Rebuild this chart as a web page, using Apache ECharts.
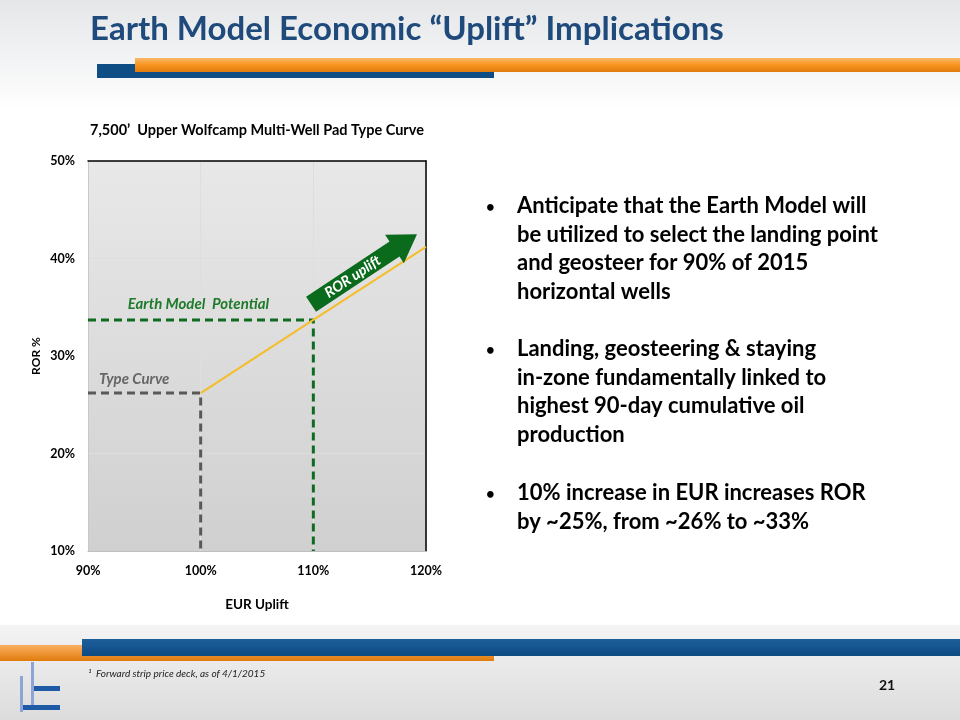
<!DOCTYPE html>
<html>
<head>
<meta charset="utf-8">
<script src="https://cdn.jsdelivr.net/npm/echarts@6/dist/echarts.min.js"></script>
<style>
  html, body { margin: 0; padding: 0; background: #fff; }
  #main { width: 960px; height: 720px; }
</style>
</head>
<body>
<div id="main"></div>
<script>
// EUR uplift (%) vs ROR (%)
const eurUplift = [100, 110, 120];
const rorValues = [26.2, 33.7, 41.2];
const xTicks = [90, 100, 110, 120];
const yTicks = [10, 20, 30, 40, 50];

// reference guides
const typeCurve = { eur: 100, ror: 26.2 };
const earthModel = { eur: 110, ror: 33.7 };

// arrow annotation (start / tip in data units)
const arrowStart = [109.8, 35.3];
const arrowEnd = [119.2, 42.5];

const bullets = [
    ['Anticipate that the Earth Model will', 'be utilized to select the landing point', 'and geosteer for 90% of 2015', 'horizontal wells'],
    ['Landing, geosteering & staying', 'in-zone fundamentally linked to', 'highest 90-day cumulative oil', 'production'],
    ['10% increase in EUR increases ROR', 'by ~25%, from ~26% to ~33%']
];

const FONT = 'Lato, "Open Sans", sans-serif';
const chart = echarts.init(document.getElementById('main'));

function bulletGraphics() {
    const out = [];
    const tops = [209, 352, 496];
    bullets.forEach((lines, i) => {
        out.push({
            type: 'text', left: 486, top: tops[i] - 9,
            style: { text: '•', font: 'bold 15px ' + FONT, fill: '#000' }
        });
        lines.forEach((line, j) => {
            out.push({
                type: 'text', left: 517, top: tops[i] - 14 + j * 28.7,
                style: { text: line, font: 'bold 22px ' + FONT, fill: '#000' }
            });
        });
    });
    return out;
}

const option = {
    backgroundColor: '#ffffff',
    animation: false,
    textStyle: { fontFamily: FONT },
    title: {
        text: '7,500\u2019  Upper Wolfcamp Multi-Well Pad Type Curve',
        left: 252, top: 118, textAlign: 'center',
        textStyle: { fontSize: 14.5, fontWeight: 'bold', color: '#000', fontFamily: FONT }
    },
    graphic: [
        // header / footer shading
        {
            type: 'rect', shape: { x: 0, y: 0, width: 960, height: 110 }, z: -10,
            style: { fill: new echarts.graphic.LinearGradient(0, 0, 0, 1, [
                { offset: 0, color: '#e4e6e8' }, { offset: 1, color: '#ffffff' }]) }
        },
        {
            type: 'rect', shape: { x: 0, y: 625, width: 960, height: 95 }, z: -10,
            style: { fill: new echarts.graphic.LinearGradient(0, 0, 0, 1, [
                { offset: 0, color: '#f4f4f4' }, { offset: 1, color: '#dcdcdc' }]) }
        },
        {
            type: 'text', left: 90, top: 13,
            style: { text: 'Earth Model Economic \u201cUplift\u201d Implications', font: 'bold 33px ' + FONT, fill: '#1f4a7c' }
        },
        // header bars
        { type: 'rect', shape: { x: 97, y: 64, width: 397, height: 14 }, style: { fill: '#0f4d85' } },
        {
            type: 'rect', shape: { x: 135, y: 58, width: 825, height: 14 },
            style: { fill: new echarts.graphic.LinearGradient(0, 0, 0, 1, [
                { offset: 0, color: '#fbb868' }, { offset: 0.5, color: '#f7941d' }, { offset: 1, color: '#e07b0c' }]) }
        },
        // footer bars
        {
            type: 'rect', shape: { x: 0, y: 645, width: 494, height: 16 },
            style: { fill: new echarts.graphic.LinearGradient(0, 0, 0, 1, [
                { offset: 0, color: '#fbb060' }, { offset: 1, color: '#e07b0c' }]) }
        },
        {
            type: 'rect', shape: { x: 82, y: 639, width: 878, height: 17 },
            style: { fill: new echarts.graphic.LinearGradient(0, 0, 0, 1, [
                { offset: 0, color: '#1d5f9c' }, { offset: 1, color: '#0c4a82' }]) }
        },
        {
            type: 'text', left: 88, top: 669,
            style: { text: '\u00b9  Forward strip price deck, as of 4/1/2015', font: 'italic 10px ' + FONT, fill: '#222' }
        },
        {
            type: 'text', left: 879, top: 678,
            style: { text: '21', font: 'bold 14px ' + FONT, fill: '#111' }
        },
        // logo
        { type: 'rect', shape: { x: 20, y: 676, width: 3, height: 36 }, style: { fill: '#8ea3d6' } },
        { type: 'rect', shape: { x: 31, y: 662, width: 3, height: 46 }, style: { fill: '#8ea3d6' } },
        { type: 'rect', shape: { x: 34, y: 686, width: 26, height: 5 }, style: { fill: '#1f5aa6' } },
        { type: 'rect', shape: { x: 23, y: 705, width: 37, height: 5 }, style: { fill: '#1f5aa6' } },
        ...bulletGraphics()
    ],
    grid: {
        left: 88, right: 534, top: 161, bottom: 169,
        show: true, borderWidth: 0,
        backgroundColor: new echarts.graphic.LinearGradient(0, 0, 0, 1, [
            { offset: 0, color: '#e8e8e8' }, { offset: 1, color: '#d0d0d0' }])
    },
    xAxis: [{
        type: 'value', min: xTicks[0], max: xTicks[xTicks.length - 1], interval: 10,
        name: 'EUR Uplift', nameLocation: 'middle', nameGap: 47,
        nameTextStyle: { fontSize: 13.5, fontWeight: 'bold', color: '#000' },
        axisLine: { show: true, lineStyle: { color: '#bfbfbf', width: 1 } },
        axisTick: { show: false },
        axisLabel: { formatter: '{value}%', fontSize: 12.5, fontWeight: 'bold', color: '#000', margin: 13 },
        splitLine: { show: true, lineStyle: { color: '#dedede' } }
    }, {
        type: 'value', position: 'top', min: xTicks[0], max: xTicks[xTicks.length - 1],
        axisLine: { show: true, onZero: false, lineStyle: { color: '#000', width: 1.5 } },
        axisTick: { show: false }, axisLabel: { show: false }, splitLine: { show: false }
    }],
    yAxis: [{
        type: 'value', min: yTicks[0], max: yTicks[yTicks.length - 1], interval: 10,
        name: 'ROR %', nameLocation: 'middle', nameGap: 46, nameRotate: 90,
        nameTextStyle: { fontSize: 12, fontWeight: 'bold', color: '#000' },
        axisLine: { show: true, lineStyle: { color: '#c8c8c8', width: 1 } },
        axisTick: { show: false },
        axisLabel: { formatter: '{value}%', fontSize: 12.5, fontWeight: 'bold', color: '#000', margin: 13 },
        splitLine: { show: true, lineStyle: { color: '#dedede' } }
    }, {
        type: 'value', position: 'right', min: yTicks[0], max: yTicks[yTicks.length - 1],
        axisLine: { show: true, onZero: false, lineStyle: { color: '#000', width: 1.5 } },
        axisTick: { show: false }, axisLabel: { show: false }, splitLine: { show: false }
    }],
    series: [
        {
            name: 'Type Curve', type: 'line', silent: true, symbol: 'none', z: 3,
            data: [[xTicks[0], typeCurve.ror], [typeCurve.eur, typeCurve.ror], [typeCurve.eur, yTicks[0]]],
            lineStyle: { color: '#595959', width: 3, type: [8, 5] },
            markPoint: {
                symbol: 'circle', symbolSize: 0,
                label: { show: true, position: 'inside', formatter: 'Type Curve',
                    fontSize: 15, fontStyle: 'italic', fontWeight: 'bold', color: '#666' },
                data: [{ coord: [94.1, 27.6] }]
            }
        },
        {
            name: 'Earth Model Potential', type: 'line', silent: true, symbol: 'none', z: 3,
            data: [[xTicks[0], earthModel.ror], [earthModel.eur, earthModel.ror], [earthModel.eur, yTicks[0]]],
            lineStyle: { color: '#0e6b1f', width: 3, type: [8, 5] },
            markPoint: {
                symbol: 'circle', symbolSize: 0,
                label: { show: true, position: 'inside', formatter: 'Earth Model  Potential',
                    fontSize: 15, fontStyle: 'italic', fontWeight: 'bold', color: '#1e7a2a' },
                data: [{ coord: [99.8, 35.3] }]
            }
        },
        {
            name: 'ROR', type: 'line', silent: true, symbol: 'none', z: 4,
            data: eurUplift.map((x, i) => [x, rorValues[i]]),
            lineStyle: { color: '#f5bd2a', width: 2 }
        },
        {
            name: 'ROR uplift', type: 'custom', silent: true, z: 5,
            data: [[arrowStart[0], arrowStart[1], arrowEnd[0], arrowEnd[1]]],
            renderItem: function (params, api) {
                const p0 = api.coord([api.value(0), api.value(1)]);
                const p1 = api.coord([api.value(2), api.value(3)]);
                const dx = p1[0] - p0[0], dy = p1[1] - p0[1];
                const len = Math.sqrt(dx * dx + dy * dy);
                const ux = dx / len, uy = dy / len, nx = -uy, ny = ux;
                const shaft = 9, head = 17, headLen = 27;
                const bx = p1[0] - ux * headLen, by = p1[1] - uy * headLen;
                const pts = [
                    [p0[0] + nx * shaft, p0[1] + ny * shaft],
                    [bx + nx * shaft, by + ny * shaft],
                    [bx + nx * head, by + ny * head],
                    p1,
                    [bx - nx * head, by - ny * head],
                    [bx - nx * shaft, by - ny * shaft],
                    [p0[0] - nx * shaft, p0[1] - ny * shaft]
                ];
                const mx = (p0[0] + bx) / 2, my = (p0[1] + by) / 2;
                return {
                    type: 'group',
                    children: [{
                        type: 'polygon', shape: { points: pts }, style: { fill: '#0b6b1c' }
                    }, {
                        type: 'text', x: mx, y: my, rotation: -Math.atan2(dy, dx),
                        style: { text: 'ROR uplift', fill: '#fff', font: 'italic bold 14.5px ' + FONT,
                            align: 'center', verticalAlign: 'middle' }
                    }]
                };
            }
        }
    ]
};

chart.setOption(option);
</script>
</body>
</html>
